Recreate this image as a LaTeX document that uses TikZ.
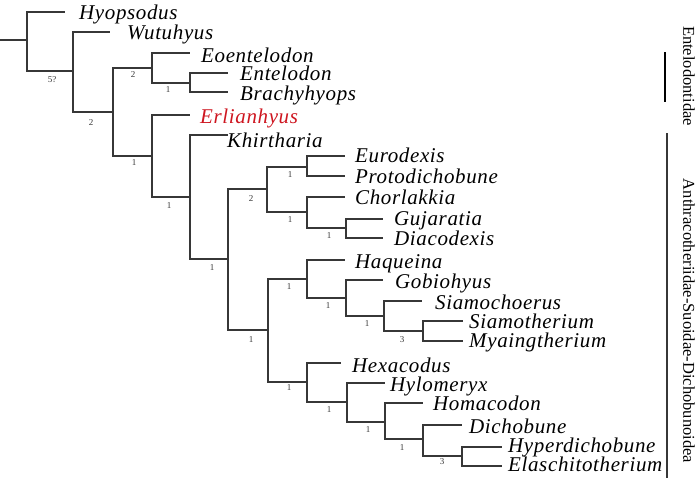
\documentclass[tikz,border=0pt]{standalone}
\usepackage{fontspec}
\setmainfont{Liberation Serif}
\newfontfamily\taxfont{Liberation Serif}[LetterSpace=3]
\definecolor{erlred}{RGB}{206,22,32}
\definecolor{brgray}{RGB}{55,55,55}
\begin{document}
\begin{tikzpicture}[x=1pt,y=-1pt,
  br/.style={draw=brgray, line width=1.3pt},
  taxon/.style={anchor=base west, inner sep=0pt, font=\fontsize{21}{21}\taxfont\itshape},
  bsup/.style={inner sep=0pt, font=\fontsize{9}{9}\selectfont, text=brgray},
  grp/.style={inner sep=0pt, font=\fontsize{16.5}{16.5}\selectfont, rotate=-90}]
\useasboundingbox (0,0) rectangle (700,480);
% internal nodes
\coordinate (r0) at (0,40);
\coordinate (r) at (27,40);
\coordinate (n1) at (73,71);
\coordinate (n2) at (113,112);
\coordinate (n3) at (152,68);
\coordinate (n5) at (190,83);
\coordinate (n4) at (152,156);
\coordinate (n6) at (190,197);
\coordinate (n7) at (228,259);
\coordinate (n8) at (267,189);
\coordinate (n10) at (307,167);
\coordinate (n11) at (307,212);
\coordinate (n12) at (346,228);
\coordinate (n9) at (268,330);
\coordinate (n13) at (307,279);
\coordinate (n15) at (346,298);
\coordinate (n16) at (384,316);
\coordinate (n17) at (423,331);
\coordinate (n14) at (307,382);
\coordinate (n18) at (347,402);
\coordinate (n19) at (385,422);
\coordinate (n20) at (423,439);
\coordinate (n21) at (462,456);
% leaf branch ends
\coordinate (lHyo) at (65,12);
\coordinate (lWut) at (110,32);
\coordinate (lEoe) at (190,53);
\coordinate (lEnt) at (228,73);
\coordinate (lBra) at (228,92);
\coordinate (lErl) at (190,115);
\coordinate (lKhi) at (228,135);
\coordinate (lEur) at (345,156);
\coordinate (lPro) at (345,176);
\coordinate (lCho) at (345,197);
\coordinate (lGuj) at (383,219);
\coordinate (lDia) at (383,238);
\coordinate (lHaq) at (345,260);
\coordinate (lGob) at (383,280);
\coordinate (lSic) at (422,301);
\coordinate (lSit) at (463,321);
\coordinate (lMya) at (463,341);
\coordinate (lHex) at (341,363);
\coordinate (lHyl) at (385,383);
\coordinate (lHom) at (423,403);
\coordinate (lDic) at (462,425);
\coordinate (lHyp) at (502,447);
\coordinate (lEla) at (502,466);
% branches
\draw[br] (r0) -- (r);
\draw[br] (r) |- (lHyo);
\draw[br] (r) |- (n1);
\draw[br] (n1) |- (lWut);
\draw[br] (n1) |- (n2);
\draw[br] (n2) |- (n3);
\draw[br] (n2) |- (n4);
\draw[br] (n3) |- (lEoe);
\draw[br] (n3) |- (n5);
\draw[br] (n5) |- (lEnt);
\draw[br] (n5) |- (lBra);
\draw[br] (n4) |- (lErl);
\draw[br] (n4) |- (n6);
\draw[br] (n6) |- (lKhi);
\draw[br] (n6) |- (n7);
\draw[br] (n7) |- (n8);
\draw[br] (n7) |- (n9);
\draw[br] (n8) |- (n10);
\draw[br] (n8) |- (n11);
\draw[br] (n10) |- (lEur);
\draw[br] (n10) |- (lPro);
\draw[br] (n11) |- (lCho);
\draw[br] (n11) |- (n12);
\draw[br] (n12) |- (lGuj);
\draw[br] (n12) |- (lDia);
\draw[br] (n9) |- (n13);
\draw[br] (n9) |- (n14);
\draw[br] (n13) |- (lHaq);
\draw[br] (n13) |- (n15);
\draw[br] (n15) |- (lGob);
\draw[br] (n15) |- (n16);
\draw[br] (n16) |- (lSic);
\draw[br] (n16) |- (n17);
\draw[br] (n17) |- (lSit);
\draw[br] (n17) |- (lMya);
\draw[br] (n14) |- (lHex);
\draw[br] (n14) |- (n18);
\draw[br] (n18) |- (lHyl);
\draw[br] (n18) |- (n19);
\draw[br] (n19) |- (lHom);
\draw[br] (n19) |- (n20);
\draw[br] (n20) |- (lDic);
\draw[br] (n20) |- (n21);
\draw[br] (n21) |- (lHyp);
\draw[br] (n21) |- (lEla);
% taxon names
\node[taxon] (tHyo) at (79,19) {Hyopsodus};
\node[taxon] (tWut) at (127,39) {Wutuhyus};
\node[taxon] (tEoe) at (201,62) {Eoentelodon};
\node[taxon] (tEnt) at (240,80) {Entelodon};
\node[taxon] (tBra) at (240,100) {Brachyhyops};
\node[taxon, text=erlred] (tErl) at (200,123) {Erlianhyus};
\node[taxon] (tKhi) at (227,147) {Khirtharia};
\node[taxon] (tEur) at (355,162) {Eurodexis};
\node[taxon] (tPro) at (355,183) {Protodichobune};
\node[taxon] (tCho) at (355,204) {Chorlakkia};
\node[taxon] (tGuj) at (394,225) {Gujaratia};
\node[taxon] (tDia) at (394,245) {Diacodexis};
\node[taxon] (tHaq) at (355,268) {Haqueina};
\node[taxon] (tGob) at (395,288) {Gobiohyus};
\node[taxon] (tSic) at (435,309) {Siamochoerus};
\node[taxon] (tSit) at (469,328) {Siamotherium};
\node[taxon] (tMya) at (469,347) {Myaingtherium};
\node[taxon] (tHex) at (352,372) {Hexacodus};
\node[taxon] (tHyl) at (390,391) {Hylomeryx};
\node[taxon] (tHom) at (433,410) {Homacodon};
\node[taxon] (tDic) at (469,433) {Dichobune};
\node[taxon] (tHyp) at (508,452) {Hyperdichobune};
\node[taxon] (tEla) at (508,471) {Elaschitotherium};
% support values
\node[bsup] (s1) at (52,80) {5?};
\node[bsup] (s2) at (91,123) {2};
\node[bsup] (s3) at (133,75) {2};
\node[bsup] (s5) at (168,90) {1};
\node[bsup] (s4) at (134,163) {1};
\node[bsup] (s6) at (169,206) {1};
\node[bsup] (s7) at (212,268) {1};
\node[bsup] (s8) at (251,199) {2};
\node[bsup] (s10) at (290,175) {1};
\node[bsup] (s11) at (290,220) {1};
\node[bsup] (s12) at (329,236) {1};
\node[bsup] (s9) at (251,340) {1};
\node[bsup] (s13) at (289,287) {1};
\node[bsup] (s15) at (328,306) {1};
\node[bsup] (s16) at (367,324) {1};
\node[bsup] (s17) at (402,340) {3};
\node[bsup] (s14) at (289,388) {1};
\node[bsup] (s18) at (329,410) {1};
\node[bsup] (s19) at (368,430) {1};
\node[bsup] (s20) at (402,448) {1};
\node[bsup] (s21) at (442,462) {3};
% group bars and names
\coordinate (gA1) at (665,52);
\coordinate (gA2) at (665,102);
\coordinate (gB1) at (667,133);
\coordinate (gB2) at (667,478);
\draw[draw=black, line width=2.4pt] (gA1) -- (gA2);
\draw[draw=brgray, line width=1.5pt] (gB1) -- (gB2);
\node[grp] (gEnt) at (689,76) {Entelodontidae};
\node[grp] (gAnt) at (689,321) {Anthracotheriidae-Suoidae-Dichobunoidea};
\end{tikzpicture}
\end{document}
